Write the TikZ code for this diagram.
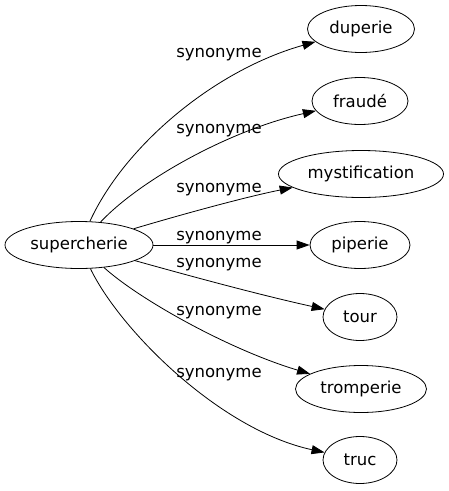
\documentclass[tikz,border=0pt]{standalone}
\usepackage{fontspec}
\setmainfont{DejaVu Sans}
\usetikzlibrary{shapes.geometric,arrows.meta}
\begin{document}
\begin{tikzpicture}[x=1pt,y=-1pt,
  every node/.style={font=\fontsize{16.5}{18}\selectfont},
  term/.style={draw, ellipse, inner sep=0pt, line width=0.8pt, minimum height=47pt},
  lbl/.style={inner sep=0pt, anchor=base},
  conn/.style={line width=0.8pt, -{Triangle[length=13pt,width=9pt]}}]
\useasboundingbox (0,0) rectangle (449,491);
\node[term, minimum width=148pt] (s) at (79,245) {supercherie};
\node[term, minimum width=107pt] (d) at (361,29) {duperie};
\node[term, minimum width=96pt] (f) at (360,101) {fraudé};
\node[term, minimum width=165pt] (m) at (361,174) {mystification};
\node[term, minimum width=100pt] (p) at (360,245) {piperie};
\node[term, minimum width=74pt] (t) at (360,317) {tour};
\node[term, minimum width=131pt] (tr) at (361,389) {tromperie};
\node[term, minimum width=74pt] (u) at (360,460) {truc};

\draw[conn] (s) .. controls (125,145) and (215,70) .. (d);
\draw[conn] (s) .. controls (140,180) and (230,130) .. (f);
\draw[conn] (s) .. controls (190,212) and (250,196) .. (m);
\draw[conn] (s) -- (p);
\draw[conn] (s) .. controls (190,276) and (260,295) .. (t);
\draw[conn] (s) .. controls (140,300) and (230,350) .. (tr);
\draw[conn] (s) .. controls (120,330) and (220,430) .. (u);

\node[lbl] (l1) at (219,57) {synonyme};
\node[lbl] (l2) at (219,133) {synonyme};
\node[lbl] (l3) at (219,192) {synonyme};
\node[lbl] (l4) at (219,240) {synonyme};
\node[lbl] (l5) at (219,267) {synonyme};
\node[lbl] (l6) at (219,315) {synonyme};
\node[lbl] (l7) at (219,377) {synonyme};
\end{tikzpicture}
\end{document}
